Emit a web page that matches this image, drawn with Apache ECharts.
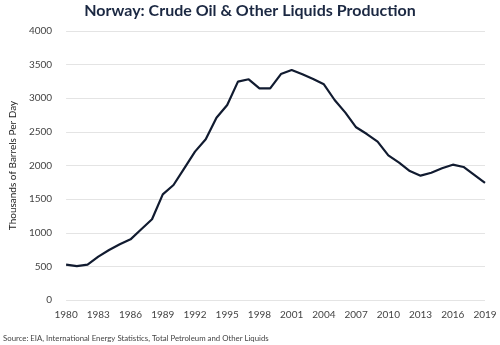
<!DOCTYPE html>
<html><head><meta charset="utf-8">
<script src="https://cdn.jsdelivr.net/npm/echarts@6/dist/echarts.min.js"></script>
<style>html,body{margin:0;padding:0;background:#fff}#c{width:500px;height:345px}</style>
</head><body><div id="c"></div>
<script>
const years = [];
for (let y = 1980; y <= 2019; y++) years.push(String(y));
const production = [525, 505, 525, 645, 743, 828, 902, 1051, 1200, 1571,
  1710, 1958, 2206, 2389, 2711, 2900, 3247, 3282, 3148, 3148,
  3360, 3420, 3356, 3286, 3207, 2974, 2786, 2568, 2468, 2354,
  2151, 2042, 1918, 1849, 1893, 1958, 2012, 1978, 1859, 1740];
const title = 'Norway: Crude Oil & Other Liquids Production';
const yAxisName = 'Thousands of Barrels Per Day';
const source = 'Source: EIA, International Energy Statistics, Total Petroleum and Other Liquids';

const chart = echarts.init(document.getElementById('c'), null, {renderer: 'canvas'});
chart.setOption({
  animation: false,
  backgroundColor: '#fff',
  title: [{
    text: title, left: 'center', top: 3, padding: 0,
    textStyle: {fontFamily: 'Lato', fontWeight: 'bold', fontSize: 16, color: '#1b2842'}
  }, {
    text: source, left: 3, top: 334, padding: 0,
    textStyle: {fontFamily: 'Lato', fontWeight: 'normal', fontSize: 7.8, color: '#444'}
  }],
  grid: {left: 63, right: 15, top: 31, bottom: 45},
  xAxis: {
    type: 'category', data: years, boundaryGap: false,
    axisLine: {show: false}, axisTick: {show: false},
    axisLabel: {interval: 2, color: '#444', fontSize: 10, fontFamily: 'Lato', margin: 10},
    splitLine: {show: false}
  },
  yAxis: {
    type: 'value', min: 0, max: 4000, interval: 500,
    name: yAxisName, nameLocation: 'middle', nameGap: 46, nameRotate: 90,
    nameTextStyle: {fontFamily: 'Lato', fontSize: 10, color: '#222'},
    axisLine: {show: false}, axisTick: {show: false},
    axisLabel: {color: '#444', fontSize: 10, fontFamily: 'Lato', margin: 14,
      formatter: v => String(v)},
    splitLine: {lineStyle: {color: '#e4e4e4', width: 1}}
  },
  series: [{
    type: 'line', data: production, symbol: 'none',
    lineStyle: {color: '#111b30', width: 2.2}
  }]
});
</script></body></html>
